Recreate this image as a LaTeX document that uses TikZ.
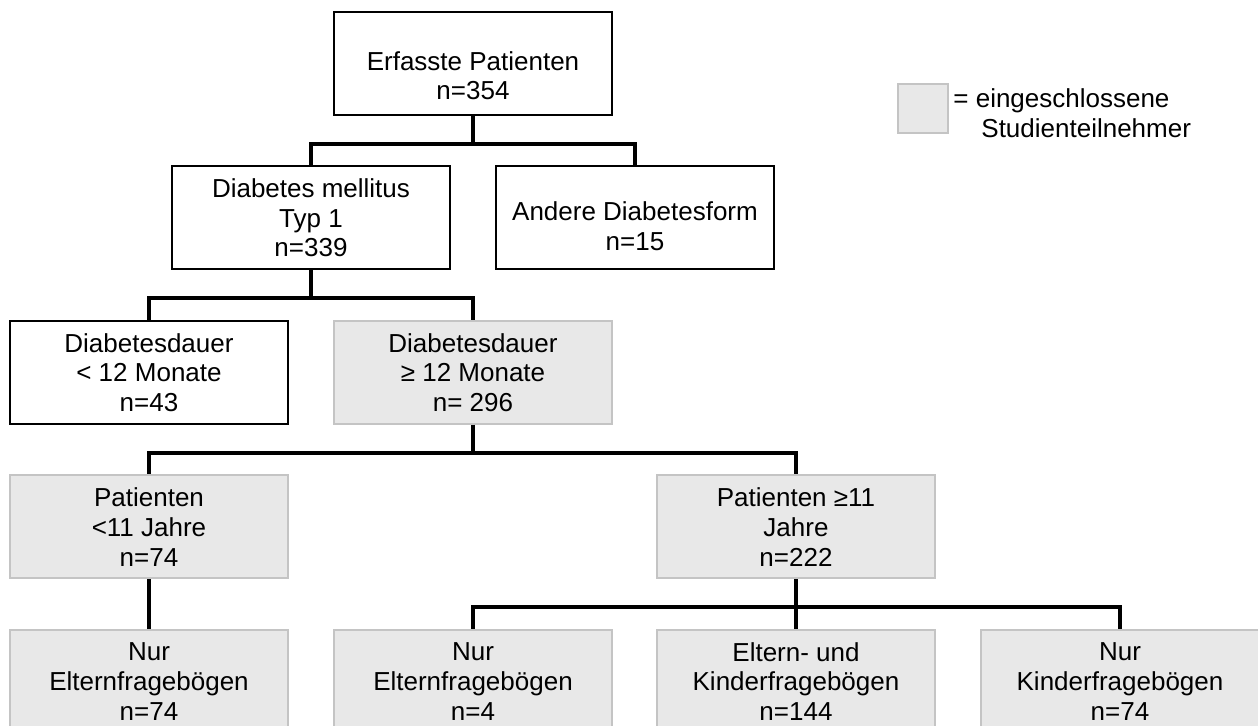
\documentclass[tikz,border=0pt]{standalone}
\usepackage{fontspec}
\setmainfont{Liberation Sans}
\usepackage{tikz}
\usetikzlibrary{positioning}
\definecolor{boxgray}{HTML}{E8E8E8}
\definecolor{linegray}{HTML}{C4C4C4}
\tikzset{
  excluded/.style={
    % The shape:
    rectangle,
    % The size:
    minimum width=139pt, minimum height=51.5pt,
    % The border:
    line width=1pt, draw=black,
    % The filling:
    fill=white,
    align=center},
  included/.style={
    % The shape:
    rectangle,
    minimum width=139pt, minimum height=51.5pt,
    % The rest
    line width=1pt, draw=linegray, fill=boxgray,
    align=center},
  branch/.style={to path={-- ++(0,28) -| (\tikztotarget)}}
}

\begin{document}
\begin{tikzpicture}[x=0.5pt,y=-0.5pt,
                    link/.style={line width=2pt,draw=black},
                    font=\fontsize{13}{14.8}\selectfont]
  \path[use as bounding box,clip] (0,0) rectangle (1258,726);

  % the tree
  \node (erfasst) [excluded] at (473,64)    {\rule{0pt}{21pt}Erfasste Patienten\\n=354};
  \node (typ1)    [excluded] at (311,218)   {Diabetes mellitus\\Typ 1\\n=339};
  \node (andere)  [excluded] at (635,218)   {\rule{0pt}{17.5pt}Andere Diabetesform\\n=15};
  \node (kurz)    [excluded] at (149,372.5) {Diabetesdauer\\< 12 Monate\\n=43};
  \node (lang)    [included] at (473,372.5) {Diabetesdauer\\≥ 12 Monate\\n= 296};
  \node (jung)    [included] at (149,527)   {Patienten\\<11 Jahre\\n=74};
  \node (alt)     [included] at (796,527)   {Patienten ≥11\\Jahre\\n=222};
  \node (eltern1) [included] at (149,681.5) {Nur\\Elternfragebögen\\n=74};
  \node (eltern2) [included] at (473,681.5) {Nur\\Elternfragebögen\\n=4};
  \node (beide)   [included] at (796,681.5) {Eltern- und\\Kinderfragebögen\\n=144};
  \node (kinder)  [included] at (1120,681.5) {Nur\\Kinderfragebögen\\n=74};

  % legend
  \node (key) [included,minimum width=25pt,minimum height=24.5pt] at (923,108.5) {};
  \node (keytext) [anchor=west,align=left,inner sep=0pt] at (953,113.5)
    {= eingeschlossene\\\hspace*{14pt}Studienteilnehmer};

  % connectors
  \draw[link] (erfasst.south) to[branch] (typ1.north);
  \draw[link] (erfasst.south) to[branch] (andere.north);
  \draw[link] (typ1.south)    to[branch] (kurz.north);
  \draw[link] (typ1.south)    to[branch] (lang.north);
  \draw[link] (lang.south)    to[branch] (jung.north);
  \draw[link] (lang.south)    to[branch] (alt.north);
  \draw[link] (jung.south)    to[branch] (eltern1.north);
  \draw[link] (alt.south)     to[branch] (eltern2.north);
  \draw[link] (alt.south)     to[branch] (beide.north);
  \draw[link] (alt.south)     to[branch] (kinder.north);
\end{tikzpicture}
\end{document}
